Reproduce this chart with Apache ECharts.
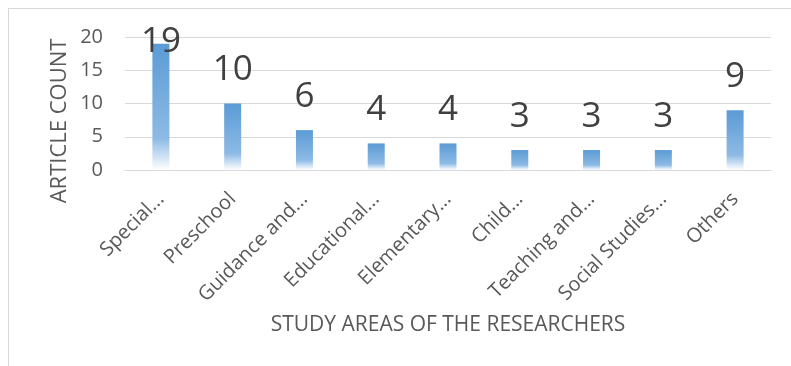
<!DOCTYPE html>
<html>
<head>
<meta charset="utf-8">
<script src="https://cdn.jsdelivr.net/npm/echarts@6/dist/echarts.min.js"></script>
<style>
html,body{margin:0;padding:0;background:#fff;}
#frame{position:absolute;left:8px;top:8px;width:783px;height:358px;border-left:1px solid #d9d9d9;border-top:1px solid #d9d9d9;box-sizing:border-box;}
#chart{position:absolute;left:0;top:0;width:791px;height:366px;}
</style>
</head>
<body>
<div id="frame"></div>
<div id="chart"></div>
<script>
const categories = ['Special...', 'Preschool', 'Guidance and...', 'Educational...', 'Elementary...', 'Child...', 'Teaching and...', 'Social Studies...', 'Others'];
const articleCounts = [19, 10, 6, 4, 4, 3, 3, 3, 9];
const yTicks = [0, 5, 10, 15, 20];
const xTitle = 'STUDY AREAS OF THE RESEARCHERS';
const yTitle = 'ARTICLE COUNT';

const chart = echarts.init(document.getElementById('chart'), null, {renderer: 'canvas'});
const font = '"Open Sans", "DejaVu Sans", sans-serif';
const barData = articleCounts.map((v) => {
  const item = {value: v};
  if (v === Math.max(...articleCounts)) {
    item.label = {distance: -16};
  }
  return item;
});
chart.setOption({
  animation: false,
  graphic: [{
    type: 'text',
    x: 60,
    y: 121,
    rotation: Math.PI / 2,
    style: {
      text: yTitle,
      fontFamily: font,
      fontSize: 22,
      fill: '#595959',
      align: 'center',
      verticalAlign: 'middle'
    }
  }],
  grid: {left: 125, right: 20, top: 37, bottom: 196, containLabel: false},
  xAxis: {
    type: 'category',
    data: categories,
    name: xTitle,
    nameLocation: 'middle',
    nameGap: 145,
    nameTextStyle: {fontFamily: font, fontSize: 21, color: '#595959'},
    axisLine: {lineStyle: {color: '#d9d9d9', width: 1}},
    axisTick: {show: false},
    axisLabel: {interval: 0, rotate: 45, fontFamily: font, fontSize: 20, color: '#595959', margin: 26}
  },
  yAxis: {
    type: 'value',
    min: yTicks[0],
    max: yTicks[yTicks.length - 1],
    interval: yTicks[1] - yTicks[0],
    axisLine: {show: false},
    axisTick: {show: false},
    splitLine: {lineStyle: {color: '#d9d9d9', width: 1}},
    axisLabel: {fontFamily: font, fontSize: 20, color: '#595959', margin: 22}
  },
  series: [{
    type: 'bar',
    data: barData,
    barWidth: 17,
    itemStyle: {
      color: new echarts.graphic.LinearGradient(0, 0, 0, 1, [
        {offset: 0, color: '#5b9bd5'},
        {offset: 0.75, color: '#8dbae5'},
        {offset: 1, color: '#ffffff'}
      ])
    },
    label: {
      show: true,
      position: 'top',
      distance: 16,
      fontFamily: font,
      fontSize: 35,
      color: '#404040'
    }
  }]
});
</script>
</body>
</html>
